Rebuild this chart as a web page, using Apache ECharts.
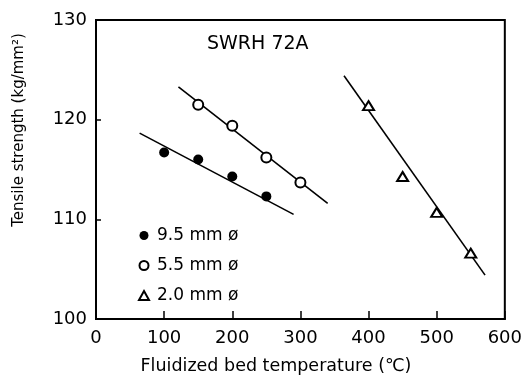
<!DOCTYPE html>
<html><head><meta charset="utf-8">
<script src="https://cdn.jsdelivr.net/npm/echarts@6/dist/echarts.min.js"></script>
<style>html,body{margin:0;padding:0;background:#fff}#c{width:525px;height:376px}</style>
</head><body><div id="c"></div>
<script>
// Data
const xTicks = [0, 100, 200, 300, 400, 500, 600];
const yTicks = [100, 110, 120, 130];
const seriesNames = ['9.5 mm ø', '5.5 mm ø', '2.0 mm ø'];
const temp95 = [100, 150, 200, 250];
const ts95 = [116.7, 116.0, 114.3, 112.3];
const temp55 = [150, 200, 250, 300];
const ts55 = [121.5, 119.4, 116.2, 113.7];
const temp20 = [400, 450, 500, 550];
const ts20 = [121.4, 114.3, 110.7, 106.6];
// regression line end points
const fit95x = [64, 290];
const fit95y = [118.65, 110.5];
const fit55x = [121, 340];
const fit55y = [123.3, 111.6];
const fit20x = [364, 571];
const fit20y = [124.4, 104.4];
const annotation = 'SWRH 72A';

const FONT = 'DejaVu Sans';
const pairs = (xs, ys) => xs.map((x, i) => [x, ys[i]]);
const fitLine = (xs, ys) => ({
  type: 'line', data: pairs(xs, ys), symbol: 'none', silent: true,
  lineStyle: { color: '#000', width: 1.6 }, z: 2
});

const chart = echarts.init(document.getElementById('c'), null, { renderer: 'canvas' });
chart.setOption({
  animation: false,
  backgroundColor: '#fff',
  textStyle: { fontFamily: FONT, color: '#000' },
  grid: { left: 96, right: 18, top: 20, bottom: 57, show: true, borderColor: '#000', borderWidth: 2, backgroundColor: 'transparent' },
  xAxis: {
    type: 'value', min: xTicks[0], max: xTicks[xTicks.length - 1], interval: 100,
    axisLine: { show: true, lineStyle: { color: '#000', width: 2 } },
    axisTick: { show: true, inside: true, length: 8, lineStyle: { color: '#000', width: 1.5 } },
    splitLine: { show: false },
    axisLabel: { color: '#000', fontSize: 18, margin: 10, fontFamily: FONT }
  },
  yAxis: {
    type: 'value', min: yTicks[0], max: yTicks[yTicks.length - 1], interval: 10,
    axisLine: { show: true, lineStyle: { color: '#000', width: 2 } },
    axisTick: { show: true, inside: true, length: 5, lineStyle: { color: '#000', width: 1.5 } },
    splitLine: { show: false },
    axisLabel: { color: '#000', fontSize: 18, margin: 9, fontFamily: FONT }
  },
  graphic: [
    { type: 'text', left: 207, top: 35, style: { text: annotation, font: '19px "DejaVu Sans"', fill: '#000' } },
    { type: 'text', x: 276, y: 366,
      style: { text: 'Fluidized bed temperature (℃)', font: '17.5px "DejaVu Sans"', fill: '#000', align: 'center', verticalAlign: 'middle' } },
    { type: 'text', x: 19, y: 130, rotation: Math.PI / 2,
      style: { text: 'Tensile strength (kg/mm²)', font: '15px "DejaVu Sans"', fill: '#000', align: 'center', verticalAlign: 'middle' } }
  ],
  legend: {
    data: seriesNames, orient: 'vertical', left: 133, top: 220, itemGap: 9,
    itemWidth: 10, itemHeight: 9, selectedMode: false,
    textStyle: { fontSize: 17, color: '#000', fontFamily: FONT, lineHeight: 21, padding: [0, 0, 0, 3] }
  },
  series: [
    fitLine(fit95x, fit95y),
    fitLine(fit55x, fit55y),
    fitLine(fit20x, fit20y),
    { name: seriesNames[0], type: 'scatter', data: pairs(temp95, ts95), symbol: 'circle', symbolSize: 10,
      itemStyle: { color: '#000', opacity: 1 }, z: 5 },
    { name: seriesNames[1], type: 'scatter', data: pairs(temp55, ts55), symbol: 'circle', symbolSize: 10,
      itemStyle: { color: '#fff', borderColor: '#000', borderWidth: 2, opacity: 1 }, z: 5 },
    { name: seriesNames[2], type: 'scatter', data: pairs(temp20, ts20), symbol: 'triangle', symbolSize: [11, 9],
      itemStyle: { color: '#fff', borderColor: '#000', borderWidth: 2, opacity: 1 }, z: 5 }
  ]
});
</script></body></html>
